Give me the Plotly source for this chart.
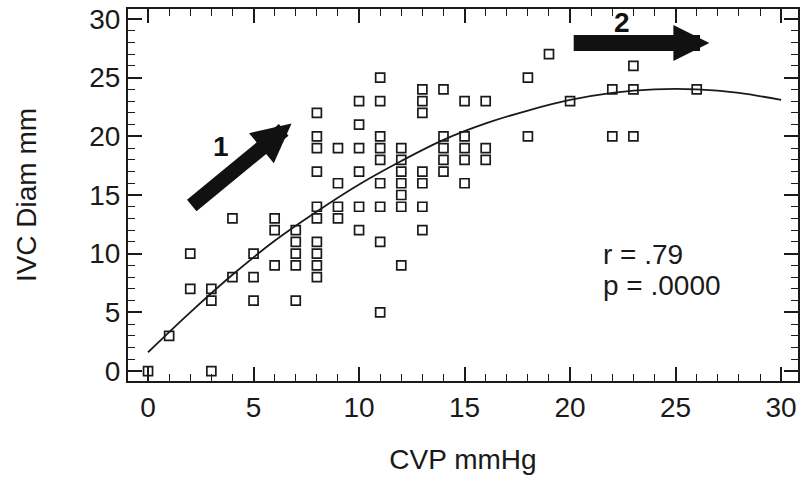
import plotly.graph_objects as go

# CVP (mmHg) and IVC diameter (mm)
cvp = [0, 1, 2, 2, 3, 3, 3, 4, 4, 5, 5, 5, 6, 6, 6,
       7, 7, 7, 7, 7,
       8, 8, 8, 8, 8, 8, 8, 8, 8, 8,
       9, 9, 9, 9,
       10, 10, 10, 10, 10, 10,
       11, 11, 11, 11, 11, 11, 11, 11, 11,
       12, 12, 12, 12, 12, 12, 12,
       13, 13, 13, 13, 13, 13, 13,
       14, 14, 14, 14, 14,
       15, 15, 15, 15, 15,
       16, 16, 16,
       18, 18, 19, 20, 22, 22, 23, 23, 23, 26]
ivc = [0, 3, 10, 7, 7, 6, 0, 13, 8, 10, 8, 6, 13, 12, 9,
       12, 11, 10, 9, 6,
       22, 20, 19, 17, 14, 13, 11, 10, 9, 8,
       19, 16, 14, 13,
       23, 21, 19, 17, 14, 12,
       25, 23, 20, 19, 18, 16, 14, 11, 5,
       19, 18, 17, 16, 15, 14, 9,
       24, 23, 22, 17, 16, 14, 12,
       24, 20, 19, 18, 17,
       23, 20, 19, 18, 16,
       23, 19, 18,
       25, 20, 27, 23, 24, 20, 26, 24, 20, 24]

# fitted curve
fit_x = [0, 2, 4, 6, 8, 10, 12, 14, 16, 18, 20, 22, 24, 26, 28, 30]
fit_y = [1.6, 5.0, 8.2, 11.1, 13.6, 15.9, 17.9, 19.7, 21.1, 22.2,
         23.1, 23.7, 24.0, 24.0, 23.7, 23.1]

x_ticks = [0, 5, 10, 15, 20, 25, 30]
y_ticks = [0, 5, 10, 15, 20, 25, 30]

stats_lines = ["r = .79", "p = .0000"]

FONT = "Liberation Sans, Arial, Helvetica, sans-serif"
INK = "#1a1a1a"

fig = go.Figure()
fig.add_trace(go.Scatter(
    x=fit_x, y=fit_y, mode="lines", line=dict(color=INK, width=1.8, shape="spline"),
    hoverinfo="skip", showlegend=False))
fig.add_trace(go.Scatter(
    x=cvp, y=ivc, mode="markers",
    marker=dict(symbol="square-open", size=9, color=INK, line=dict(width=1.7, color=INK)),
    showlegend=False))

axis_common = dict(
    showgrid=False, zeroline=False, showline=True, linecolor=INK, linewidth=2,
    mirror="ticks", ticks="inside", ticklen=14, tickwidth=1.5, tickcolor=INK,
    tickfont=dict(family=FONT, size=28, color=INK), automargin=False,
    minor=dict(dtick=1, ticks="inside", ticklen=7, tickwidth=1.3, tickcolor=INK),
)

fig.update_layout(
    width=803, height=483,
    margin=dict(l=128, r=5, t=9, b=102),
    paper_bgcolor="white", plot_bgcolor="white",
    font=dict(family=FONT, color=INK),
    xaxis=dict(range=[-0.95, 30.8], tickvals=x_ticks,
               title=dict(text="CVP mmHg", font=dict(family=FONT, size=28, color=INK), standoff=28),
               **axis_common),
    yaxis=dict(range=[-0.85, 30.85], tickvals=y_ticks,
               title=dict(text="IVC Diam mm", font=dict(family=FONT, size=28, color=INK), standoff=44),
               **axis_common),
)

# stats text
fig.add_annotation(x=21.45, y=9.95, xref="x", yref="y", text=stats_lines[0], showarrow=False,
                   xanchor="left", yanchor="middle", font=dict(family=FONT, size=28, color=INK))
fig.add_annotation(x=21.45, y=7.25, xref="x", yref="y", text=stats_lines[1], showarrow=False,
                   xanchor="left", yanchor="middle", font=dict(family=FONT, size=28, color=INK))

# arrows
fig.add_annotation(x=6.8, y=21.1, ax=2.0, ay=14.0, xref="x", yref="y", axref="x", ayref="y",
                   text="", showarrow=True, arrowhead=2, arrowsize=0.52, arrowwidth=15, arrowcolor="#111")
fig.add_annotation(x=26.6, y=27.95, ax=20.1, ay=27.95, xref="x", yref="y", axref="x", ayref="y",
                   text="", showarrow=True, arrowhead=2, arrowsize=0.45, arrowwidth=16, arrowcolor="#111")
fig.add_annotation(x=3.45, y=19.1, xref="x", yref="y", text="<b>1</b>", showarrow=False,
                   font=dict(family=FONT, size=28, color="#111"))
fig.add_annotation(x=22.45, y=29.7, xref="x", yref="y", text="<b>2</b>", showarrow=False,
                   font=dict(family=FONT, size=28, color="#111"))

fig.write_html("out.html", config={"displayModeBar": False},
               post_script="document.body.style.margin='0';")
